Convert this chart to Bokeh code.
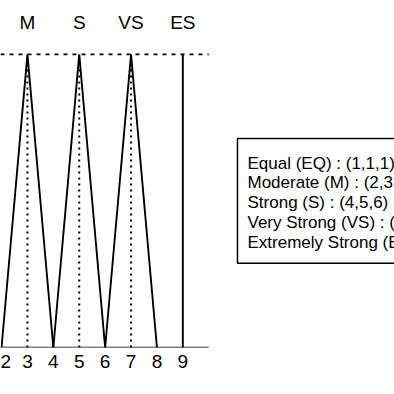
from bokeh.plotting import figure
from bokeh.models import Range1d, FixedTicker, Label, ColumnDataSource
from bokeh.core.properties import value
from bokeh.embed import file_html
from bokeh.resources import INLINE

# Triangular fuzzy numbers (lower, middle, upper)
codes = ["EQ", "M", "S", "VS", "ES"]
names = ["Equal", "Moderate", "Strong", "Very Strong", "Extremely Strong"]
lower = [1, 2, 4, 6, 9]
middle = [1, 3, 5, 7, 9]
upper = [1, 4, 6, 8, 9]
x_ticks = [1, 2, 3, 4, 5, 6, 7, 8, 9]
axis_end = 10

FONT = "Liberation Sans"
W, H = 394, 394
frame_h = 347
unit_px = 25.9
x_lo = 1.96
x_hi = x_lo + W / unit_px
y_lo, y_hi = 0, 1.184

p = figure(width=W, height=H, output_backend="svg", toolbar_location=None,
           x_range=Range1d(x_lo, x_hi), y_range=Range1d(y_lo, y_hi),
           y_axis_location=None, min_border_left=0, min_border_top=0,
           min_border_right=0, min_border_bottom=H - frame_h)
p.outline_line_color = None
p.xgrid.visible = False
p.ygrid.visible = False

ax = p.xaxis[0]
ax.ticker = FixedTicker(ticks=x_ticks)
ax.axis_line_color = None
ax.major_tick_line_color = None
ax.minor_tick_line_color = None
ax.major_tick_in = 0
ax.major_tick_out = 0
ax.major_label_standoff = 7
ax.major_label_text_font = FONT
ax.major_label_text_font_size = "19px"
ax.major_label_text_color = "black"

# axis line and membership = 1 reference line, up to the end of the axis
p.segment(x0=[x_lo], y0=[0], x1=[axis_end], y1=[0], line_color="black",
          line_width=1.6)
p.segment(x0=[x_lo], y0=[1], x1=[axis_end], y1=[1], line_color="black",
          line_width=1.8, line_dash="4 5")

# triangles
for l, m, u in zip(lower, middle, upper):
    if l == m == u:
        p.line([l, m], [0, 1], line_color="black", line_width=1.9)
    else:
        p.line([l, m, u], [0, 1, 0], line_color="black", line_width=1.9)
        p.line([m, m], [0, 1], line_color="black", line_width=2,
               line_dash="2 4")

# category labels above peaks
src = ColumnDataSource(dict(x=middle, y=[1.1075] * len(middle), t=codes))
p.text(x="x", y="y", text="t", source=src, text_align="center",
       text_baseline="middle", text_font=value(FONT), text_font_size="19px",
       text_color="black")

# legend box
def px_x(px):
    return x_lo + px / unit_px

def px_y(py):
    return (frame_h - py) * (y_hi - y_lo) / frame_h

lines = [f"{n} ({c}) : ({l},{m},{u})" for n, c, l, m, u in
         zip(names, codes, lower, middle, upper)]
leg = Label(x=px_x(237), y=px_y(138), text="\n".join(lines),
            text_align="left", text_baseline="top", text_font=FONT,
            text_font_size="17px", text_line_height=1.05, text_color="black",
            border_line_color="black", border_line_width=1.5,
            background_fill_color="white", padding=(10, 11, 15, 11))
p.add_layout(leg)

open("out.html", "w").write(file_html(p, INLINE))
